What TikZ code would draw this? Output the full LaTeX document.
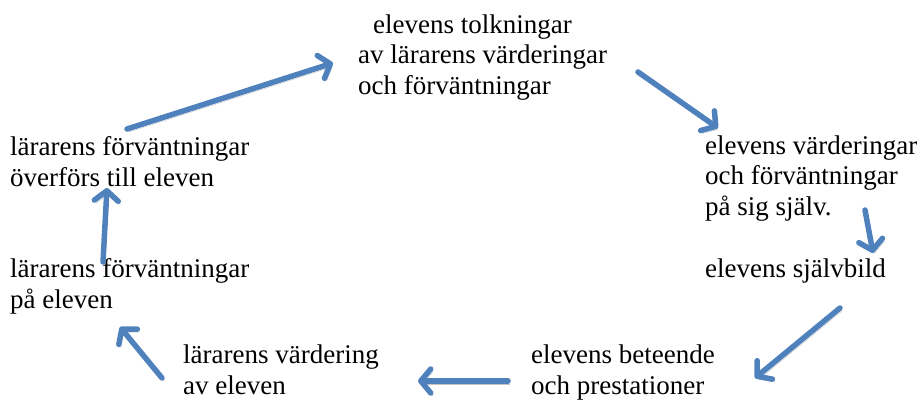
\documentclass[tikz,border=0pt]{standalone}
\usepackage{fontspec}
\setmainfont{Liberation Serif}
\usetikzlibrary{arrows.meta}
\definecolor{arrowblue}{RGB}{79,129,189}
\definecolor{shadowgray}{RGB}{195,195,195}
\tikzset{
  lbl/.style={anchor=base west, inner sep=0pt, align=left, font=\fontsize{27}{30.5}\selectfont},
  flowarrow/.style={line width=5.5pt, draw=arrowblue, line cap=round, line join=round,
    -{Straight Barb[length=10pt,width=24pt,round]},
    preaction={draw=shadowgray, transform canvas={shift={(2pt,-3pt)}}}}
}
\begin{document}
\begin{tikzpicture}[x=1pt,y=-1pt]
\useasboundingbox (0,0) rectangle (917,405);
% texts (anchored at the baseline of the last line)
\node[lbl] (top) at (358,94) {\hspace*{15pt}elevens tolkningar\\av lärarens värderingar\\och förväntningar};
\node[lbl] (rvalue) at (705,215) {elevens värderingar\\och förväntningar\\på sig själv.};
\node[lbl] (rself) at (705,277) {elevens självbild};
\node[lbl] (behav) at (531,394) {elevens beteende\\och prestationer};
\node[lbl] (teachval) at (183,394) {lärarens värdering\\av eleven};
\node[lbl] (teachexp) at (10,308) {lärarens förväntningar\\på eleven};
\node[lbl] (transfer) at (10,186) {lärarens förväntningar\\överförs till eleven};
% arrow ends
\coordinate (a1s) at (127,129); \coordinate (a1e) at (333,63);
\coordinate (a2s) at (638,72);  \coordinate (a2e) at (718,128);
\coordinate (a3s) at (865,210); \coordinate (a3e) at (873,253);
\coordinate (a4s) at (840,308); \coordinate (a4e) at (755,378);
\coordinate (a5s) at (508,381); \coordinate (a5e) at (418,381);
\coordinate (a6s) at (162,378); \coordinate (a6e) at (120,327);
\coordinate (a7s) at (103,262); \coordinate (a7e) at (107,188);
\draw[flowarrow] (a1s) -- (a1e);
\draw[flowarrow] (a2s) -- (a2e);
\draw[flowarrow] (a3s) -- (a3e);
\draw[flowarrow] (a4s) -- (a4e);
\draw[flowarrow] (a5s) -- (a5e);
\draw[flowarrow] (a6s) -- (a6e);
\draw[flowarrow] (a7s) -- (a7e);
\end{tikzpicture}
\end{document}
